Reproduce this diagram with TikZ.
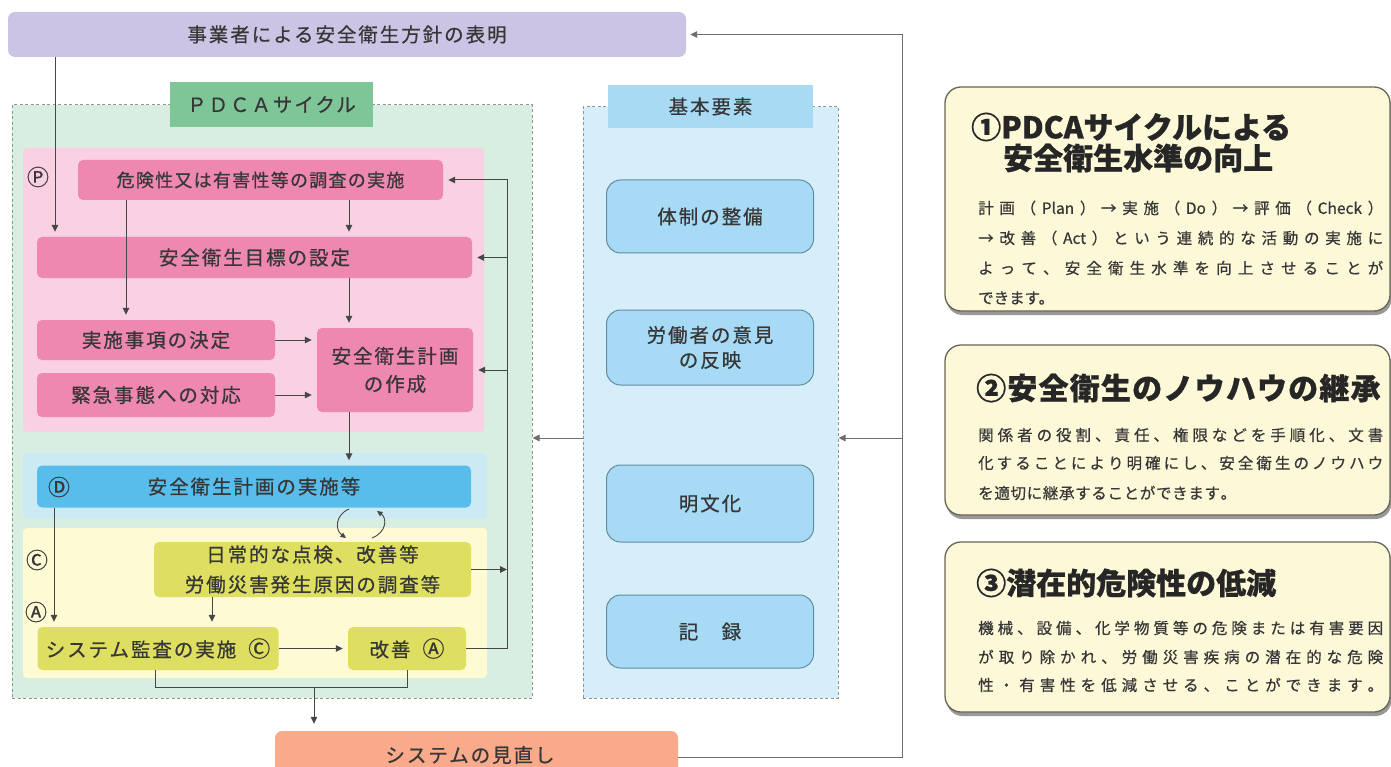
\documentclass[tikz,border=0pt]{standalone}
\usepackage{fontspec}
\setmainfont{Noto Sans CJK JP}
\usetikzlibrary{arrows.meta,shadows,calc}
\makeatletter
\newcommand\jline[2]{\makebox[#1][s]{\jl@first#2\relax}}
\def\jl@first#1{#1\jl@rest}
\def\jl@rest#1{\ifx\relax#1\else\hfil#1\expandafter\jl@rest\fi}
\makeatother
\definecolor{purp}{RGB}{204,196,228}
\definecolor{pdcag}{RGB}{216,238,224}
\definecolor{pdcalab}{RGB}{126,198,152}
\definecolor{pinkl}{RGB}{250,208,227}
\definecolor{pinkb}{RGB}{239,136,176}
\definecolor{bluel}{RGB}{203,234,244}
\definecolor{blueb}{RGB}{88,189,234}
\definecolor{yell}{RGB}{254,250,212}
\definecolor{yelb}{RGB}{222,222,96}
\definecolor{orng}{RGB}{249,170,138}
\definecolor{kbl}{RGB}{214,238,250}
\definecolor{klab}{RGB}{168,219,243}
\definecolor{ebox}{RGB}{166,218,245}
\definecolor{eborder}{RGB}{100,140,160}
\definecolor{cream}{RGB}{253,249,216}
\definecolor{cardb}{RGB}{105,100,85}
\definecolor{txtc}{RGB}{55,55,55}
\definecolor{linec}{RGB}{70,70,70}
\definecolor{fbc}{RGB}{110,110,110}
\definecolor{dashc}{RGB}{140,150,145}
\begin{document}
\begin{tikzpicture}[x=1pt,y=-1pt,
 dtext/.style={font=\fontsize{19.5}{23}\selectfont\addfontfeature{LetterSpace=10,FakeBold=0.7}, text=txtc, inner sep=0pt},
 bx/.style={dtext, rectangle, rounded corners=5pt, align=center},
 arr/.style={draw=linec, line width=1pt, -{Triangle[length=7pt,width=6.5pt]}, shorten >=5pt},
 arr0/.style={arr, shorten >=0pt},
 ln/.style={draw=linec, line width=1pt},
 cont/.style={draw=dashc, dash pattern=on 3pt off 2.5pt, line width=1pt, inner sep=0pt, rectangle},
 card/.style={draw=cardb, line width=1.3pt, fill=cream, rounded corners=16pt, drop shadow={shadow xshift=1.5pt, shadow yshift=-4pt, opacity=0.4, fill=black}, inner sep=0pt, rectangle},
 ctitle/.style={font=\bfseries\fontsize{30}{34}\selectfont\addfontfeature{FakeBold=0.8}, text=black!85, inner sep=0pt, anchor=west},
 cbody/.style={font=\fontsize{15.5}{18}\selectfont\addfontfeature{FakeBold=0.6}, text=txtc, inner sep=0pt, anchor=west},
 circ/.style={font=\fontsize{22}{24}\selectfont\addfontfeature{FakeBold=0.5}, text=txtc, inner sep=0pt}
]
\useasboundingbox (0,0) rectangle (1391,767);
\clip (0,0) rectangle (1391,767);
\fill[white] (0,0) rectangle (1391,767);

% containers
\node[cont, fill=pdcag, minimum width=520pt, minimum height=593pt] (pdca) at (272,401.5) {};
\node[cont, fill=kbl, minimum width=255pt, minimum height=591pt] (kbox) at (710.5,402.5) {};
\node[dtext, fill=pdcalab, minimum width=203pt, minimum height=45pt] (pdcalabel) at (271.5,104.5) {ＰＤＣＡサイクル};
\node[dtext, fill=klab, minimum width=205pt, minimum height=43pt] (klabel) at (710.5,106.5) {基本要素};

% regions
\node[rectangle, fill=pinkl, rounded corners=4pt, minimum width=461pt, minimum height=284pt, inner sep=0pt] (pinkreg) at (253.5,290) {};
\node[rectangle, fill=bluel, rounded corners=4pt, minimum width=464pt, minimum height=65pt, inner sep=0pt] (bluereg) at (255,485.5) {};
\node[rectangle, fill=yell, rounded corners=4pt, minimum width=464pt, minimum height=150pt, inner sep=0pt] (yelreg) at (255,603) {};

% top and bottom
\node[bx, fill=purp, rounded corners=7pt, minimum width=678pt, minimum height=45pt] (top) at (347,34.5) {事業者による安全衛生方針の表明};
\node[bx, fill=orng, rounded corners=7pt, minimum width=403pt, minimum height=52pt] (rev) at (476.5,757) {};
\node[dtext] (revtext) at (470,755) {システムの見直し};

% plan boxes
\node[bx, fill=pinkb, minimum width=365pt, minimum height=40pt, font=\fontsize{18}{22}\selectfont\addfontfeature{LetterSpace=7,FakeBold=0.7}] (kiken) at (260.5,180) {危険性又は有害性等の調査の実施};
\node[bx, fill=pinkb, minimum width=435pt, minimum height=41pt] (moku) at (254.5,257.5) {安全衛生目標の設定};
\node[bx, fill=pinkb, minimum width=238pt, minimum height=40pt] (jisshi) at (156,340) {実施事項の決定};
\node[bx, fill=pinkb, minimum width=238pt, minimum height=44pt] (kinkyu) at (156,395) {緊急事態への対応};
\node[bx, fill=pinkb, minimum width=156pt, minimum height=84pt, font=\fontsize{19.5}{28}\selectfont\addfontfeature{LetterSpace=10,FakeBold=0.7}] (keikaku) at (395,370) {安全衛生計画\\の作成};
\node[circ] (cP) at (38,177) {Ⓟ};

% do
\node[bx, fill=blueb, minimum width=434pt, minimum height=42pt] (jishi) at (254,486.5) {安全衛生計画の実施等};
\node[circ] (cD) at (59,487) {Ⓓ};

% check / act
\node[bx, fill=yelb, minimum width=317pt, minimum height=55pt, font=\fontsize{19.5}{30}\selectfont\addfontfeature{LetterSpace=10,FakeBold=0.7}] (nichijo) at (312.5,569.5) {日常的な点検、改善等\\労働災害発生原因の調査等};
\node[bx, fill=yelb, minimum width=241pt, minimum height=43pt] (audit) at (158,648.5) {システム監査の実施\hspace*{12pt}{\fontsize{22}{24}\selectfont Ⓒ}};
\node[bx, fill=yelb, minimum width=118pt, minimum height=43pt] (kaizen) at (407,648.5) {改善\hspace*{12pt}{\fontsize{22}{24}\selectfont Ⓐ}};
\node[circ] (cC) at (37,560) {Ⓒ};
\node[circ] (cA) at (36,612) {Ⓐ};

% basic elements
\node[bx, fill=ebox, draw=eborder, line width=1pt, rounded corners=14pt, minimum width=207pt, minimum height=73pt] (e1) at (710,216.5) {体制の整備};
\node[bx, fill=ebox, draw=eborder, line width=1pt, rounded corners=14pt, minimum width=207pt, minimum height=75pt, font=\fontsize{19.5}{25}\selectfont\addfontfeature{LetterSpace=10,FakeBold=0.7}] (e2) at (710,347.5) {労働者の意見\\の反映};
\node[bx, fill=ebox, draw=eborder, line width=1pt, rounded corners=14pt, minimum width=207pt, minimum height=77pt] (e3) at (710,503.5) {明文化};
\node[bx, fill=ebox, draw=eborder, line width=1pt, rounded corners=14pt, minimum width=207pt, minimum height=73pt] (e4) at (710,631.5) {記　録};

% column coordinates
\coordinate (xA) at (55,0);
\coordinate (xB) at (126,0);
\coordinate (xC) at (349,0);
\coordinate (xR) at (507,0);
\coordinate (xD) at (54,0);
\coordinate (xE) at (212,0);
\coordinate (xG) at (155,0);
\coordinate (xH) at (407,0);
\coordinate (br) at (314,687);

% plan arrows
\draw[arr] (top.south -| xA) -- (moku.north -| xA);
\draw[arr] (kiken.south -| xC) -- (moku.north -| xC);
\draw[arr] (kiken.south -| xB) -- (jisshi.north -| xB);
\draw[arr] (moku.south -| xC) -- (keikaku.north -| xC);
\draw[arr] (jisshi.east) -- (jisshi.east -| keikaku.west);
\draw[arr] (kinkyu.east) -- (kinkyu.east -| keikaku.west);
\draw[arr] (keikaku.south -| xC) -- (jishi.north -| xC);

% right loop
\draw[arr] (kaizen.east) -- (kaizen.east -| xR) -- (xR |- kiken.east) -- (kiken.east);
\draw[arr] (xR |- moku.east) -- (moku.east);
\draw[arr] (xR |- keikaku.east) -- (keikaku.east);
\draw[arr0] (nichijo.east) -- (nichijo.east -| xR);

% do/check arrows
\draw[arr] (jishi.south -| xD) -- (audit.north -| xD);
\draw[arr] (nichijo.south -| xE) -- (audit.north -| xE);
\draw[arr] (audit.east) -- (kaizen.west);
\draw[ln] (audit.south -| xG) -- (xG |- br) -- (xH |- br) -- (kaizen.south -| xH);
\draw[arr, shorten >=7pt] (br) -- (rev.north -| br);

% curved arrows
\coordinate (cu1s) at (349,509);
\coordinate (cu1e) at (346,538);
\coordinate (cu2s) at (372,538);
\coordinate (cu2e) at (377,511);
\draw[draw=linec, line width=0.9pt, -{Triangle[length=5.5pt,width=5pt]}] (cu1s) .. controls (335,515) and (335,530) .. (cu1e);
\draw[draw=linec, line width=0.9pt, -{Triangle[length=5.5pt,width=5pt]}] (cu2s) .. controls (387,532) and (387,518) .. (cu2e);

% feedback
\coordinate (fbT) at (902,34.5);
\coordinate (fbB) at (902,757);
\coordinate (fbM) at (902,438);
\draw[arr, draw=fbc, shorten >=4pt] (rev.east) -- (fbB) -- (fbT) -- (top.east);
\draw[arr0, draw=fbc] (fbM) -- (kbox.east |- fbM);
\draw[arr0, draw=fbc] (kbox.west |- fbM) -- (pdca.east |- fbM);

% cards
\node[card, minimum width=445pt, minimum height=224pt] (card1) at (1167.5,199) {};
\node[card, minimum width=445pt, minimum height=170pt] (card2) at (1167.5,430) {};
\node[card, minimum width=445pt, minimum height=170pt] (card3) at (1167.5,627) {};

\node[ctitle] (c1t1) at (971,127) {①PDCAサイクルによる};
\node[ctitle] (c1t2) at (1003,158) {安全衛生水準の向上};
\node[cbody] (c1b1) at (978,208) {\jline{405pt}{計画（{Plan}）→実施（{Do}）→評価（{Check}）}};
\node[cbody] (c1b2) at (978,238) {\jline{405pt}{→改善（{Act}）という連続的な活動の実施に}};
\node[cbody] (c1b3) at (978,268) {\jline{405pt}{よって、安全衛生水準を向上させることが}};
\node[cbody] (c1b4) at (978,298) {できます。};

\node[ctitle, font=\bfseries\fontsize{30}{34}\selectfont\addfontfeature{LetterSpace=4,FakeBold=0.8}] (c2t) at (976,388) {②安全衛生のノウハウの継承};
\node[cbody] (c2b1) at (978,435) {\jline{405pt}{関係者の役割、責任、権限などを手順化、文書}};
\node[cbody] (c2b2) at (978,463) {\jline{405pt}{化することにより明確にし、安全衛生のノウハウ}};
\node[cbody] (c2b3) at (978,493) {\jline{258pt}{を適切に継承することができます。}};

\node[ctitle] (c3t) at (976,583) {③潜在的危険性の低減};
\node[cbody] (c3b1) at (978,628) {\jline{405pt}{機械、設備、化学物質等の危険または有害要因}};
\node[cbody] (c3b2) at (978,657) {\jline{405pt}{が取り除かれ、労働災害疾病の潜在的な危険}};
\node[cbody] (c3b3) at (978,685) {\jline{405pt}{性・有害性を低減させる、ことができます。}};
\end{tikzpicture}
\end{document}
